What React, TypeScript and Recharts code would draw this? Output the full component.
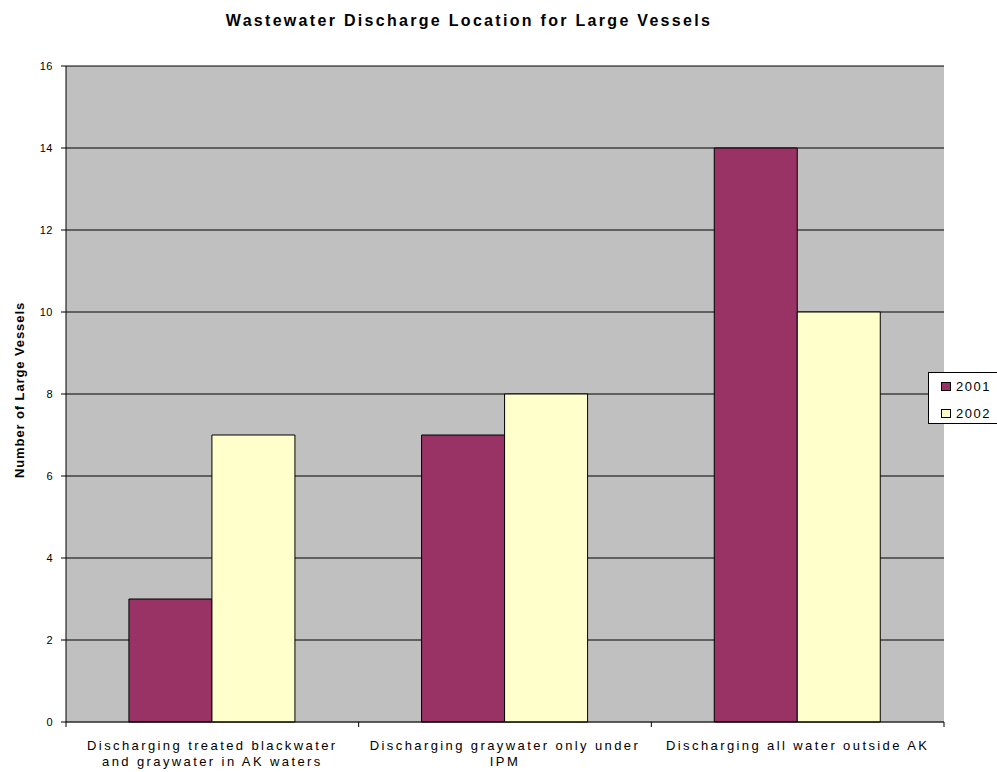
import React from 'react';
import { BarChart, Bar, XAxis, YAxis, CartesianGrid, Legend } from 'recharts';

const categories = [
  'Discharging treated blackwater and graywater in AK waters',
  'Discharging graywater only under IPM',
  'Discharging all water outside AK',
];
const tickLabelLines = [
  ['Discharging treated blackwater', 'and graywater in AK waters'],
  ['Discharging graywater only under', 'IPM'],
  ['Discharging all water outside AK'],
];
const values2001 = [3, 7, 14];
const values2002 = [7, 8, 10];
const yTicks = [0, 2, 4, 6, 8, 10, 12, 14, 16];

const FONT = '"Liberation Sans", Arial, sans-serif';

const data = categories.map((name, i) => ({ name, y2001: values2001[i], y2002: values2002[i] }));

const XTick = (props: any) => {
  const { x, y, payload, index, visibleTicksCount, width } = props;
  const half = payload && payload.offset ? payload.offset : width / visibleTicksCount / 2;
  const lines = tickLabelLines[index] || [String(payload.value)];
  return (
    <g>
      <line x1={x - half} x2={x - half} y1={y} y2={y + 5} stroke="#000" />
      {index === visibleTicksCount - 1 && (
        <line x1={x + half} x2={x + half} y1={y} y2={y + 5} stroke="#000" />
      )}
      <text x={x} y={y + 28} textAnchor="middle" fontSize={13} letterSpacing={2.4} fill="#000" fontFamily={FONT}>
        {lines.map((l, j) => (
          <tspan key={j} x={x} dy={j === 0 ? 0 : 16}>{l}</tspan>
        ))}
      </text>
    </g>
  );
};

const YLabel = (props: any) => {
  const vb = props.viewBox || { x: 0, y: 66, width: 66, height: 656 };
  const cx = 19;
  const cy = vb.y + vb.height / 2 - 4;
  return (
    <text x={cx} y={cy} transform={`rotate(-90 ${cx} ${cy})`} textAnchor="middle" dominantBaseline="central"
      fontSize={13} fontWeight="bold" letterSpacing={0.9} fill="#000" fontFamily={FONT}>
      Number of Large Vessels
    </text>
  );
};

const GridLine = (props: any) => {
  const { x1, x2, y1, y2, index } = props;
  return <line key={props.key} x1={x1} x2={x2} y1={y1} y2={y2} stroke={index === 0 ? '#808080' : '#000'} strokeWidth={1} />;
};

const renderLegend = (props: any) => {
  const payload = props.payload || [];
  return (
    <div style={{ position: 'relative', width: 72, height: 52, border: '1px solid #000', background: '#fff', boxSizing: 'border-box', fontFamily: FONT, fontSize: 13, letterSpacing: 1.5, color: '#000' }}>
      {payload.map((p: any, i: number) => (
        <div key={i} style={{ position: 'absolute', left: 12, top: 5 + i * 27, height: 16, display: 'flex', alignItems: 'center' }}>
          <div style={{ width: 10, height: 9, border: '1px solid #000', background: p.color, boxSizing: 'border-box', marginRight: 5 }} />
          <span>{p.value}</span>
        </div>
      ))}
    </div>
  );
};

export default function App() {
  return (
    <div style={{ position: 'absolute', left: 0, top: 0, width: 997, height: 772, overflow: 'hidden', background: '#fff', fontFamily: FONT }}>
      <div style={{ position: 'absolute', left: 0, top: 11, width: 938, textAlign: 'center', fontSize: 16, fontWeight: 'bold', letterSpacing: 2.3, lineHeight: '19px', color: '#000' }}>
        Wastewater Discharge Location for Large Vessels
      </div>
      <BarChart width={997} height={772} data={data} margin={{ top: 66, right: 53, left: 0, bottom: 0 }}
        barCategoryGap="21.5%" barGap={0}>
        <CartesianGrid vertical={false} fill="#C0C0C0" fillOpacity={1} stroke="#000" horizontal={GridLine as any} />
        <XAxis dataKey="name" height={50} tickSize={0} tickMargin={0} tickLine={false} axisLine={{ stroke: '#000' }}
          tick={XTick} interval={0} />
        <YAxis domain={[0, 16]} ticks={yTicks} interval={0} width={66} tickSize={5} tickMargin={8}
          axisLine={{ stroke: '#000' }} tickLine={{ stroke: '#000' }}
          tick={{ fontSize: 11, fill: '#000', fontFamily: FONT, letterSpacing: 0.5 }}
          label={<YLabel />} />
        <Legend layout="horizontal" verticalAlign="middle" align="center" content={renderLegend}
          wrapperStyle={{ position: 'absolute', left: 928, top: 372, width: 72, height: 52 }} />
        <Bar dataKey="y2001" name="2001" fill="#993366" stroke="#000" strokeWidth={1} isAnimationActive={false} />
        <Bar dataKey="y2002" name="2002" fill="#FFFFCC" stroke="#000" strokeWidth={1} isAnimationActive={false} />
      </BarChart>
    </div>
  );
}
